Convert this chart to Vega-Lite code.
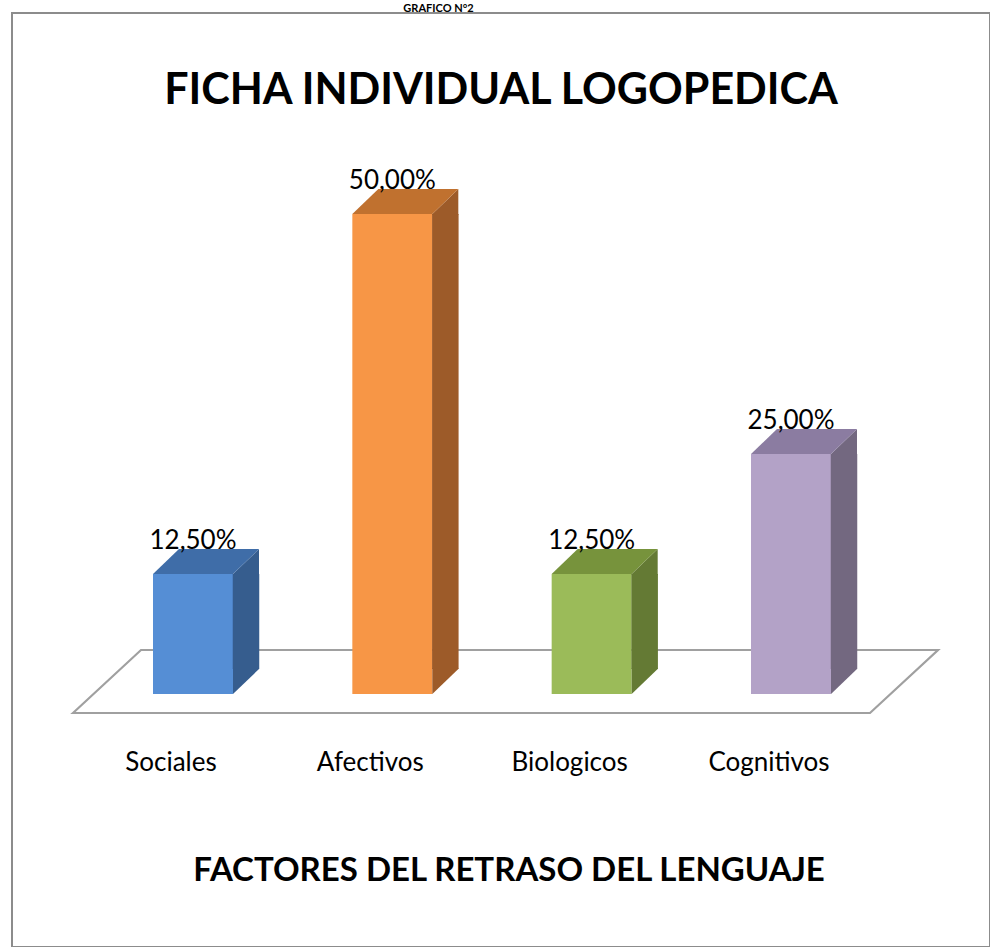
{
  "$schema": "https://vega.github.io/schema/vega-lite/v6.json",
  "width": 978,
  "height": 934,
  "autosize": {"type": "none"},
  "padding": {"left": 12, "top": 13, "right": 0, "bottom": 0},
  "background": "white",
  "config": {
    "locale": {"number": {"decimal": ",", "thousands": ".", "grouping": [3], "currency": ["", " €"]}},
    "view": {"stroke": "#8c8c8c", "strokeWidth": 2, "fill": "white"},
    "font": "Lato"
  },
  "title": {
    "text": "FICHA INDIVIDUAL LOGOPEDICA",
    "anchor": "middle",
    "frame": "group",
    "font": "Lato",
    "fontWeight": "bold",
    "fontSize": 43,
    "color": "#000000",
    "offset": -110
  },
  "data": {
    "values": [
      {"factor": "Sociales", "pct": 0.125},
      {"factor": "Afectivos", "pct": 0.5},
      {"factor": "Biologicos", "pct": 0.125},
      {"factor": "Cognitivos", "pct": 0.25}
    ]
  },
  "encoding": {
    "x": {
      "field": "factor",
      "type": "nominal",
      "sort": null,
      "scale": {"range": [81.33, 878.67], "paddingInner": 0, "paddingOuter": 0},
      "axis": {
        "title": "FACTORES DEL RETRASO DEL LENGUAJE",
        "domain": false,
        "ticks": false,
        "grid": false,
        "offset": -253,
        "labelAngle": 0,
        "labelFont": "Lato",
        "labelFontSize": 26,
        "labelColor": "#000000",
        "labelBaseline": "alphabetic",
        "labelPadding": 76,
        "labelOffset": -22,
        "titleFont": "Lato",
        "titleFontWeight": "bold",
        "titleFontSize": 33,
        "titleColor": "#000000",
        "titleBaseline": "alphabetic",
        "titleAlign": "center",
        "titleX": 496.5,
        "titleY": 186
      }
    },
    "y": {
      "field": "pct",
      "type": "quantitative",
      "scale": {"domain": [0, 0.6], "range": [681, 105]},
      "axis": {
        "title": "GRAFICO N°2",
        "labels": false,
        "ticks": false,
        "domain": false,
        "grid": false,
        "titleAngle": 0,
        "titleFont": "Lato",
        "titleFontWeight": "bold",
        "titleFontSize": 11,
        "titleColor": "#000000",
        "titleBaseline": "alphabetic",
        "titleAlign": "center",
        "titleX": 426,
        "titleY": -1.5
      }
    }
  },
  "resolve": {"scale": {"color": "independent"}},
  "layer": [
    {
      "transform": [{"filter": "datum.factor === 'Sociales'"}],
      "mark": {"type": "point", "shape": "M -120 19 L -52 -44 L 745 -44 L 677 19 Z", "size": 4, "filled": true, "fill": "#ffffff", "stroke": "#a0a0a0", "strokeWidth": 2.2, "opacity": 1},
      "encoding": {"y": {"datum": 0}}
    },
    {
      "mark": {"type": "bar", "width": 80},
      "encoding": {
        "color": {"field": "factor", "type": "nominal", "legend": null,
          "scale": {"domain": ["Sociales", "Afectivos", "Biologicos", "Cognitivos"], "range": ["#558ED5", "#F79646", "#9BBB59", "#B3A2C7"]}}
      }
    },
    {
      "mark": {"type": "bar", "width": 26.5, "xOffset": 53, "y2Offset": -25},
      "encoding": {
        "y2": {"datum": 0},
        "color": {"field": "factor", "type": "nominal", "legend": null,
          "scale": {"domain": ["Sociales", "Afectivos", "Biologicos", "Cognitivos"], "range": ["#365D8E", "#9D5B29", "#647A34", "#736880"]}}
      }
    },
    {
      "mark": {"type": "point", "shape": "M 40 1 L 40 0 L 66 -25 L 66 1 Z", "size": 4, "filled": true, "opacity": 1},
      "encoding": {
        "color": {"field": "factor", "type": "nominal", "legend": null,
          "scale": {"domain": ["Sociales", "Afectivos", "Biologicos", "Cognitivos"], "range": ["#365D8E", "#9D5B29", "#647A34", "#736880"]}}
      }
    },
    {
      "mark": {"type": "point", "shape": "M 40 -26 L 40 0 L 66 -25 L 66 -26 Z", "size": 4, "filled": true, "opacity": 1},
      "encoding": {
        "y": {"datum": 0},
        "color": {"field": "factor", "type": "nominal", "legend": null,
          "scale": {"domain": ["Sociales", "Afectivos", "Biologicos", "Cognitivos"], "range": ["#365D8E", "#9D5B29", "#647A34", "#736880"]}}
      }
    },
    {
      "mark": {"type": "point", "shape": "M -40 0 L -14 -25 L 66 -25 L 40 0 Z", "size": 4, "filled": true, "opacity": 1},
      "encoding": {
        "color": {"field": "factor", "type": "nominal", "legend": null,
          "scale": {"domain": ["Sociales", "Afectivos", "Biologicos", "Cognitivos"], "range": ["#3F6DA8", "#C0712F", "#77933C", "#8B7CA1"]}}
      }
    },
    {
      "mark": {"type": "text", "baseline": "alphabetic", "align": "center", "dy": -25, "fontSize": 26, "font": "Lato", "color": "#000000"},
      "encoding": {
        "text": {"field": "pct", "type": "quantitative", "format": ".2%"}
      }
    }
  ]
}
